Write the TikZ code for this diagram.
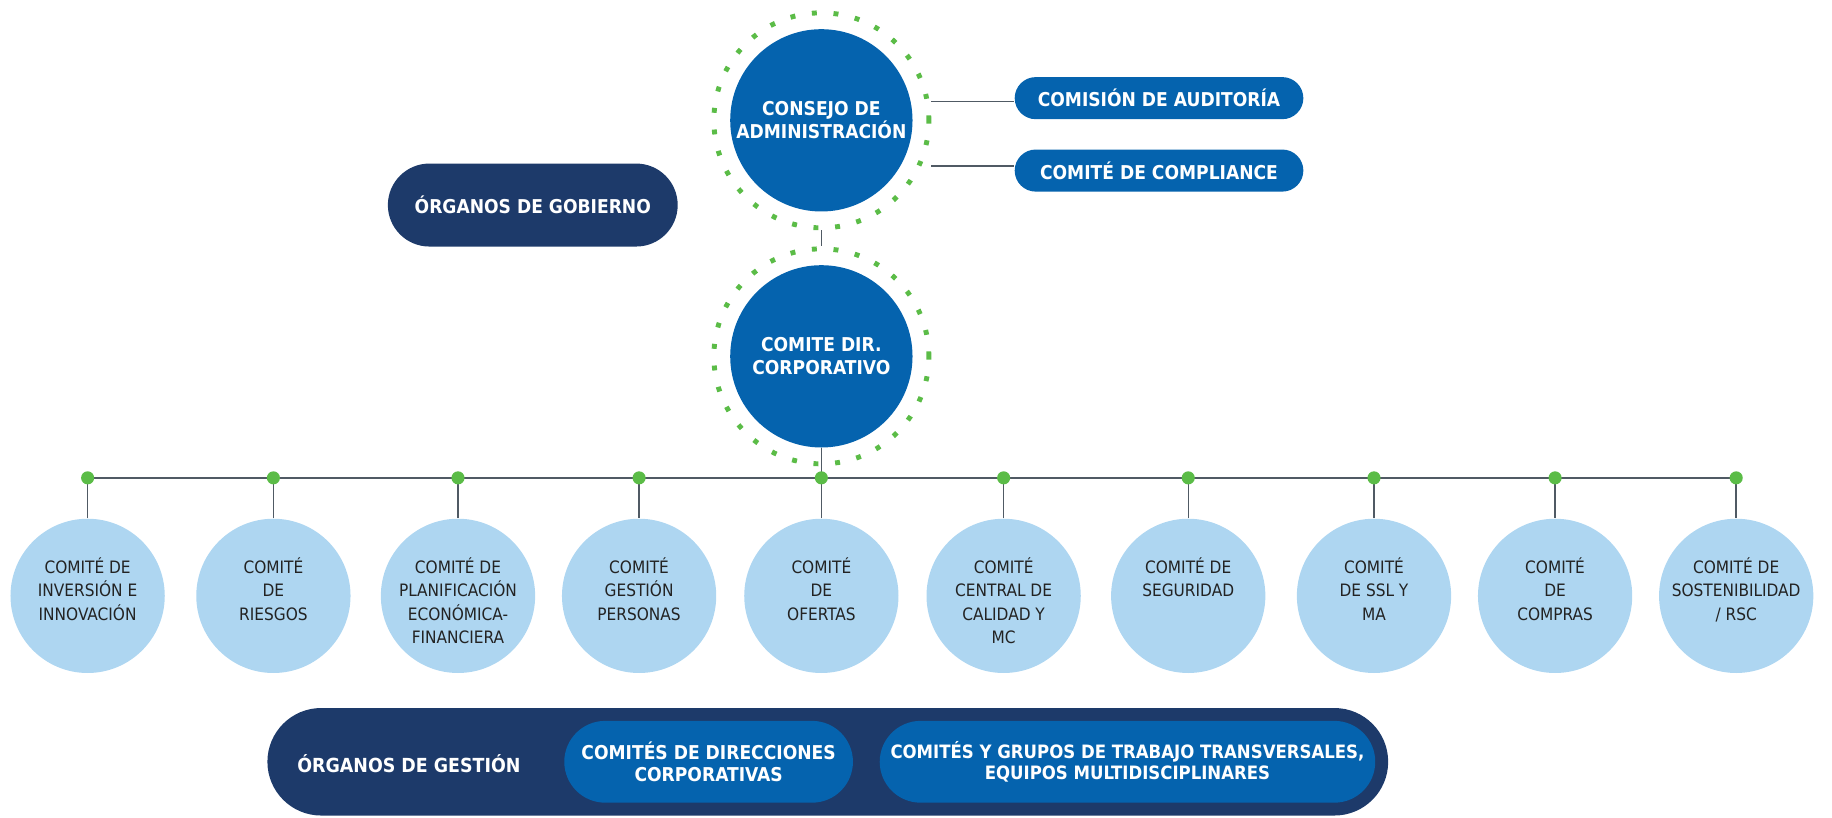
\documentclass[tikz,border=0pt]{standalone}
\usepackage{fontspec}
\setmainfont{DejaVu Sans Condensed}
\usetikzlibrary{positioning,shapes.misc}
\definecolor{corpblue}{RGB}{5,99,174}
\definecolor{navy}{RGB}{29,58,106}
\definecolor{lightblue}{RGB}{174,214,241}
\definecolor{dotgreen}{RGB}{91,188,71}
\definecolor{linegray}{RGB}{80,90,100}
\definecolor{txtdark}{RGB}{35,35,35}

\tikzset{
  maincirc/.style={circle,fill=corpblue,minimum size=3.9cm,inner sep=0pt,text=white,
    font=\bfseries\fontsize{11.6}{14}\selectfont,align=center},
  ring/.style={circle,draw=dotgreen,line width=3pt,dash pattern=on 3pt off 10.2pt,
    minimum size=4.6cm,inner sep=0pt},
  pill/.style={rounded rectangle,fill=corpblue,text=white,inner sep=0pt,
    font=\bfseries\fontsize{11.6}{13}\selectfont,align=center},
  navypill/.style={pill,fill=navy},
  subcirc/.style={circle,fill=lightblue,minimum size=3.3cm,inner sep=0pt},
  subtxt/.style={text=txtdark,font=\fontsize{10.4}{14.2}\selectfont,align=center,inner sep=0pt},
  gdot/.style={circle,fill=dotgreen,minimum size=0.28cm,inner sep=0pt},
  conn/.style={draw=linegray,line width=0.9pt}
}

\begin{document}
\begin{tikzpicture}[x=0.025cm,y=0.025cm]
  \useasboundingbox (0,0) rectangle (1568,700);

  % organos de gobierno
  \node[ring] (consring) at (703,597) {};
  \node[maincirc] (cons) at (703,597) {CONSEJO DE\\ADMINISTRACIÓN};
  \node[ring] (dirring) at (703,395) {};
  \node[maincirc] (dir) at (703,395) {COMITE DIR.\\CORPORATIVO};
  \node[pill,minimum width=6.175cm,minimum height=0.9cm] (aud) at (992,616) {COMISIÓN DE AUDITORÍA};
  \node[pill,minimum width=6.175cm,minimum height=0.9cm] (comp) at (992,554) {COMITÉ DE COMPLIANCE};
  \node[navypill,minimum width=6.2cm,minimum height=1.775cm] (gob) at (456,524.5) {ÓRGANOS DE GOBIERNO};
  \coordinate (audin) at ([yshift=-0.075cm]aud.west);
  \coordinate (compin) at ([yshift=0.1cm]comp.west);
  \draw[conn] (consring.east |- audin) -- (audin);
  \draw[conn] (consring.east |- compin) -- (compin);
  \draw[conn] (consring.south) -- (dirring.north);

  % comites
  \foreach \i/\x/\lbl in {
    1/75/{COMITÉ DE\\INVERSIÓN E\\INNOVACIÓN},
    2/234/{COMITÉ\\DE\\RIESGOS},
    3/392/{COMITÉ DE\\PLANIFICACIÓN\\ECONÓMICA-\\FINANCIERA},
    4/547/{COMITÉ\\GESTIÓN\\PERSONAS},
    5/703/{COMITÉ\\DE\\OFERTAS},
    6/859/{COMITÉ\\CENTRAL DE\\CALIDAD Y\\MC},
    7/1017/{COMITÉ DE\\SEGURIDAD},
    8/1176/{COMITÉ\\DE SSL Y\\MA},
    9/1331/{COMITÉ\\DE\\COMPRAS},
    10/1486/{COMITÉ DE\\SOSTENIBILIDAD\\/ RSC}}
  {
    \node[subcirc] (c\i) at (\x,190) {};
    \node[subtxt,anchor=north] (t\i) at (\x,223) {\lbl};
    \coordinate (b\i) at (\x,291);
    \draw[conn] (b\i) -- (c\i.north);
  }
  \draw[conn] (b1) -- (b10);
  \draw[conn] (dir.south) -- (b5);
  \foreach \i in {1,...,10}
    \node[gdot] (d\i) at (b\i) {};

  % organos de gestion
  \node[navypill,minimum width=23.975cm,minimum height=2.3cm] (gest) at (708.5,48) {};
  \node[text=white,font=\bfseries\fontsize{11.8}{13}\selectfont] (gesttxt) at (350,46) {ÓRGANOS DE GESTIÓN};
  \node[pill,minimum width=6.175cm,minimum height=1.75cm] (dirc) at (606.5,48) {COMITÉS DE DIRECCIONES\\CORPORATIVAS};
  \node[pill,minimum width=10.6cm,minimum height=1.75cm,font=\bfseries\fontsize{11.2}{13}\selectfont] (transv) at (965,48) {COMITÉS Y GRUPOS DE TRABAJO TRANSVERSALES,\\EQUIPOS MULTIDISCIPLINARES};
\end{tikzpicture}
\end{document}
